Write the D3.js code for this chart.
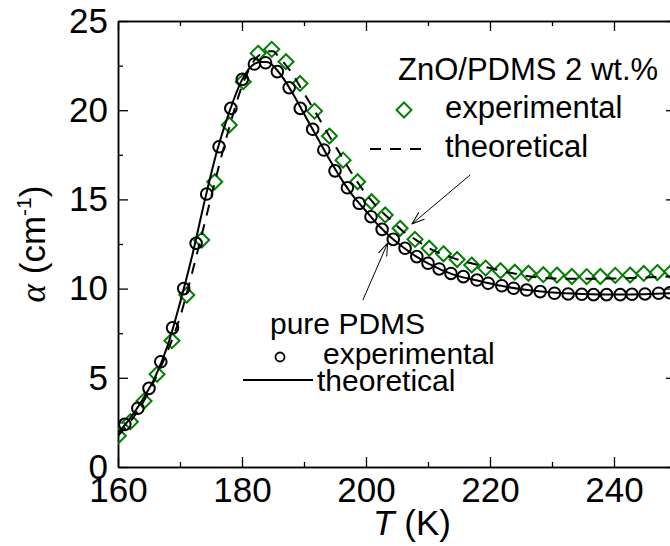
<!DOCTYPE html>
<html>
<head>
<meta charset="utf-8">
<script src="https://cdn.jsdelivr.net/npm/d3@7"></script>
<style>
  body { margin: 0; background: #fff; }
  svg text { font-family: "Liberation Sans", Arial, sans-serif; fill: #000; }
</style>
</head>
<body>
<div id="chart"></div>
<script>
// pure PDMS - experimental points
var pureExpT = [161.1, 163.2, 165.0, 166.9, 168.8, 170.6, 172.6, 174.3, 176.3, 178.2,
    180.05, 182.0, 183.8, 185.7, 187.6, 189.4, 191.4, 193.2, 195.0, 197.0,
    198.9, 200.8, 202.6, 204.4, 206.3, 208.2, 210.0, 211.8, 213.7, 215.7,
    217.9, 219.7, 221.9, 223.8, 225.9, 228.1, 230.4, 232.6, 234.8, 236.7,
    238.8, 241.0, 242.9, 245.0, 247.2, 249.0];
var pureExpAlpha = [2.39, 3.29, 4.41, 5.9, 7.8, 10.0, 12.54, 15.3, 17.95, 20.1,
    21.73, 22.59, 22.66, 22.16, 21.26, 20.1, 18.93, 17.77, 16.6, 15.65,
    14.78, 14.03, 13.32, 12.76, 12.26, 11.79, 11.42, 11.1, 10.85, 10.67,
    10.48, 10.30, 10.16, 10.02, 9.92, 9.83, 9.74, 9.70, 9.68, 9.66,
    9.66, 9.66, 9.68, 9.70, 9.74, 9.77];

// pure PDMS - theoretical curve
var pureThT = [160, 162, 164, 166, 168, 170, 172, 174, 176, 178, 180, 182, 183, 184,
    186, 188, 190, 192, 194, 196, 198, 200, 202, 204, 206, 208, 210, 214, 218,
    222, 226, 230, 235, 240, 245, 250];
var pureThAlpha = [1.9, 2.75, 3.8, 5.05, 6.8, 9.2, 11.9, 14.95, 17.75, 19.95, 21.7, 22.6, 22.7, 22.7,
    22.1, 21.05, 19.8, 18.55, 17.3, 16.15, 15.15, 14.35, 13.55, 12.88, 12.32, 11.82, 11.42, 10.8, 10.45,
    10.14, 9.92, 9.78, 9.7, 9.67, 9.69, 9.75];

// ZnO/PDMS 2 wt.% - experimental points
var znoExpT = [160.05, 162.0, 164.2, 166.3, 168.7, 171.1, 173.5, 175.6, 177.95, 180.2,
    182.6, 184.8, 187.1, 189.35, 191.7, 194.1, 196.3, 198.65, 200.9, 203.1,
    205.5, 207.9, 210.2, 212.5, 214.7, 217.05, 219.3, 221.7, 224.0, 226.2,
    228.6, 230.8, 233.2, 235.6, 237.8, 240.2, 242.6, 244.8, 247.0, 249.3];
var znoExpAlpha = [1.75, 2.54, 3.70, 5.2, 7.08, 9.64, 12.72, 15.99, 19.17, 21.6,
    23.19, 23.41, 22.72, 21.5, 19.95, 18.55, 17.2, 15.99, 14.87, 14.13,
    13.38, 12.76, 12.26, 11.95, 11.63, 11.32, 11.15, 11.0, 10.92, 10.86,
    10.78, 10.76, 10.68, 10.67, 10.68, 10.74, 10.76, 10.85, 10.9, 10.95];

// ZnO/PDMS 2 wt.% - theoretical curve
var znoThT = [160, 162, 164, 166, 168, 170, 172, 174, 176, 178, 180, 182, 183, 184, 185,
    186, 188, 190, 192, 194, 196, 198, 200, 202, 204, 206, 208, 210, 214, 218,
    222, 226, 230, 235, 240, 245, 250];
var znoThAlpha = [1.75, 2.55, 3.6, 4.95, 6.5, 8.4, 10.95, 13.7, 16.5, 19.1, 21.35, 22.8, 23.15, 23.3, 23.3,
    22.95, 22.1, 20.95, 19.8, 18.6, 17.45, 16.3, 15.3, 14.5, 13.85, 13.2, 12.75, 12.3, 11.72, 11.33,
    10.99, 10.71, 10.57, 10.55, 10.57, 10.62, 10.7];

var xTicks = [160, 180, 200, 220, 240];
var xMinorTicks = [170, 190, 210, 230, 250];
var yTicks = [0, 5, 10, 15, 20, 25];
var yMinorTicks = [2.5, 7.5, 12.5, 17.5, 22.5];

// annotation arrows, in data units: [fromT, fromAlpha, toT, toAlpha]
var arrowZno = [216.8, 16.37, 207.4, 13.62];
var arrowPure = [199.5, 9.36, 203.5, 12.56];

var zipPts = function (xs, ys) {
    return xs.map(function (x, i) { return { t: x, a: ys[i] }; });
};

var W = 670, H = 546,
    margin = { top: 21, left: 118 },
    pw = 558, ph = 446,
    green = "#008000";

var x = d3.scaleLinear().domain([160, 250]).range([margin.left, margin.left + pw]);
var y = d3.scaleLinear().domain([0, 25]).range([margin.top + ph, margin.top]);

var svg = d3.select("#chart").append("svg")
    .attr("width", W)
    .attr("height", H);

var defs = svg.append("defs");
defs.append("clipPath").attr("id", "plotclip")
    .append("rect")
    .attr("x", x(160)).attr("y", y(25))
    .attr("width", pw).attr("height", ph);

defs.append("marker")
    .attr("id", "arrowhead")
    .attr("markerUnits", "userSpaceOnUse")
    .attr("viewBox", "0 0 13 10")
    .attr("refX", 13).attr("refY", 5)
    .attr("markerWidth", 13).attr("markerHeight", 10)
    .attr("orient", "auto")
    .append("path")
    .attr("d", "M0,0.5 L13,5 L0,9.5")
    .attr("fill", "none")
    .attr("stroke", "#000")
    .attr("stroke-width", 1);

// axes - ticks pointing inward on all four sides
function styleAxis(g) {
    g.select(".domain").attr("stroke", "#000").attr("stroke-width", 1.5);
    g.selectAll(".tick line").attr("stroke", "#000").attr("stroke-width", 1.3);
    g.selectAll(".tick text").attr("font-size", 35)
        .attr("font-family", "'Liberation Sans', Arial, sans-serif");
}

svg.append("g")
    .attr("transform", "translate(0," + y(0) + ")")
    .call(d3.axisBottom(x).tickValues(xTicks).tickSize(-10).tickSizeOuter(0)
        .tickPadding(10).tickFormat(d3.format("d")))
    .call(styleAxis);
svg.append("g")
    .attr("transform", "translate(0," + y(0) + ")")
    .call(d3.axisBottom(x).tickValues(xMinorTicks).tickSize(-5).tickSizeOuter(0).tickFormat(""))
    .call(styleAxis);
svg.append("g")
    .attr("transform", "translate(0," + y(25) + ")")
    .call(d3.axisTop(x).tickValues(xTicks).tickSize(-10).tickSizeOuter(0).tickFormat(""))
    .call(styleAxis);
svg.append("g")
    .attr("transform", "translate(0," + y(25) + ")")
    .call(d3.axisTop(x).tickValues(xMinorTicks).tickSize(-5).tickSizeOuter(0).tickFormat(""))
    .call(styleAxis);

svg.append("g")
    .attr("transform", "translate(" + x(160) + ",0)")
    .call(d3.axisLeft(y).tickValues(yTicks).tickSize(-10).tickSizeOuter(0)
        .tickPadding(10).tickFormat(d3.format("d")))
    .call(styleAxis);
svg.append("g")
    .attr("transform", "translate(" + x(160) + ",0)")
    .call(d3.axisLeft(y).tickValues(yMinorTicks).tickSize(-5).tickSizeOuter(0).tickFormat(""))
    .call(styleAxis);
svg.append("g")
    .attr("transform", "translate(" + x(250) + ",0)")
    .call(d3.axisRight(y).tickValues(yTicks).tickSize(-10).tickSizeOuter(0).tickFormat(""))
    .call(styleAxis);
svg.append("g")
    .attr("transform", "translate(" + x(250) + ",0)")
    .call(d3.axisRight(y).tickValues(yMinorTicks).tickSize(-5).tickSizeOuter(0).tickFormat(""))
    .call(styleAxis);

// axis titles
var xl = svg.append("text")
    .attr("x", 412).attr("y", 535)
    .attr("text-anchor", "middle")
    .attr("font-size", 35);
xl.append("tspan").attr("font-style", "italic").text("T");
xl.append("tspan").text(" (K)");

var yl = svg.append("text")
    .attr("transform", "translate(45," + y(12.5) + ") rotate(-90)")
    .attr("text-anchor", "middle")
    .attr("font-size", 35);
yl.append("tspan").attr("font-style", "italic")
    .attr("font-family", "'Liberation Serif', 'DejaVu Serif', serif").text("\u03b1");
yl.append("tspan").text(" (cm");
yl.append("tspan").attr("font-size", 21).attr("dy", -14).text("-1");
yl.append("tspan").attr("dy", 14).text(")");

// data
var plot = svg.append("g").attr("clip-path", "url(#plotclip)");

var line = d3.line()
    .x(function (d) { return x(d.t); })
    .y(function (d) { return y(d.a); })
    .curve(d3.curveMonotoneX);

var diamond = function (d) {
    var cx = x(d.t), cy = y(d.a), r = 7.5;
    return "M" + cx + "," + (cy - r) + "L" + (cx + r) + "," + cy +
        "L" + cx + "," + (cy + r) + "L" + (cx - r) + "," + cy + "Z";
};

plot.selectAll("path.dia")
    .data(zipPts(znoExpT, znoExpAlpha))
    .enter().append("path")
    .attr("class", "dia")
    .attr("d", diamond)
    .attr("fill", "none")
    .attr("stroke", green)
    .attr("stroke-width", 2);

plot.selectAll("circle.pure")
    .data(zipPts(pureExpT, pureExpAlpha))
    .enter().append("circle")
    .attr("class", "pure")
    .attr("cx", function (d) { return x(d.t); })
    .attr("cy", function (d) { return y(d.a); })
    .attr("r", 5.8)
    .attr("fill", "none")
    .attr("stroke", "#000")
    .attr("stroke-width", 2);

plot.append("path")
    .attr("d", line(zipPts(znoThT, znoThAlpha)))
    .attr("fill", "none")
    .attr("stroke", "#000")
    .attr("stroke-width", 2)
    .attr("stroke-dasharray", "11,9");

plot.append("path")
    .attr("d", line(zipPts(pureThT, pureThAlpha)))
    .attr("fill", "none")
    .attr("stroke", "#000")
    .attr("stroke-width", 2);

// arrows
[arrowZno, arrowPure].forEach(function (a) {
    svg.append("line")
        .attr("x1", x(a[0])).attr("y1", y(a[1]))
        .attr("x2", x(a[2])).attr("y2", y(a[3]))
        .attr("stroke", "#000")
        .attr("stroke-width", 1)
        .attr("marker-end", "url(#arrowhead)");
});

// legend - ZnO/PDMS
svg.append("text").attr("x", 398).attr("y", 80).attr("font-size", 31).text("ZnO/PDMS 2 wt.%");
svg.append("path")
    .attr("d", "M404,102.5L411.5,110L404,117.5L396.5,110Z")
    .attr("fill", "none").attr("stroke", green).attr("stroke-width", 2);
svg.append("text").attr("x", 445).attr("y", 118).attr("font-size", 31).text("experimental");
svg.append("line")
    .attr("x1", 370).attr("x2", 429).attr("y1", 149).attr("y2", 149)
    .attr("stroke", "#000").attr("stroke-width", 2).attr("stroke-dasharray", "11,9");
svg.append("text").attr("x", 445).attr("y", 157).attr("font-size", 31).text("theoretical");

// legend - pure PDMS
svg.append("text").attr("x", 270).attr("y", 334).attr("font-size", 30).text("pure PDMS");
svg.append("circle")
    .attr("cx", 280).attr("cy", 357).attr("r", 4.5)
    .attr("fill", "none").attr("stroke", "#000").attr("stroke-width", 1.8);
svg.append("text").attr("x", 323).attr("y", 364).attr("font-size", 30).text("experimental");
svg.append("line")
    .attr("x1", 243).attr("x2", 313).attr("y1", 380).attr("y2", 380)
    .attr("stroke", "#000").attr("stroke-width", 2);
svg.append("text").attr("x", 317).attr("y", 391).attr("font-size", 30).text("theoretical");
</script>
</body>
</html>
